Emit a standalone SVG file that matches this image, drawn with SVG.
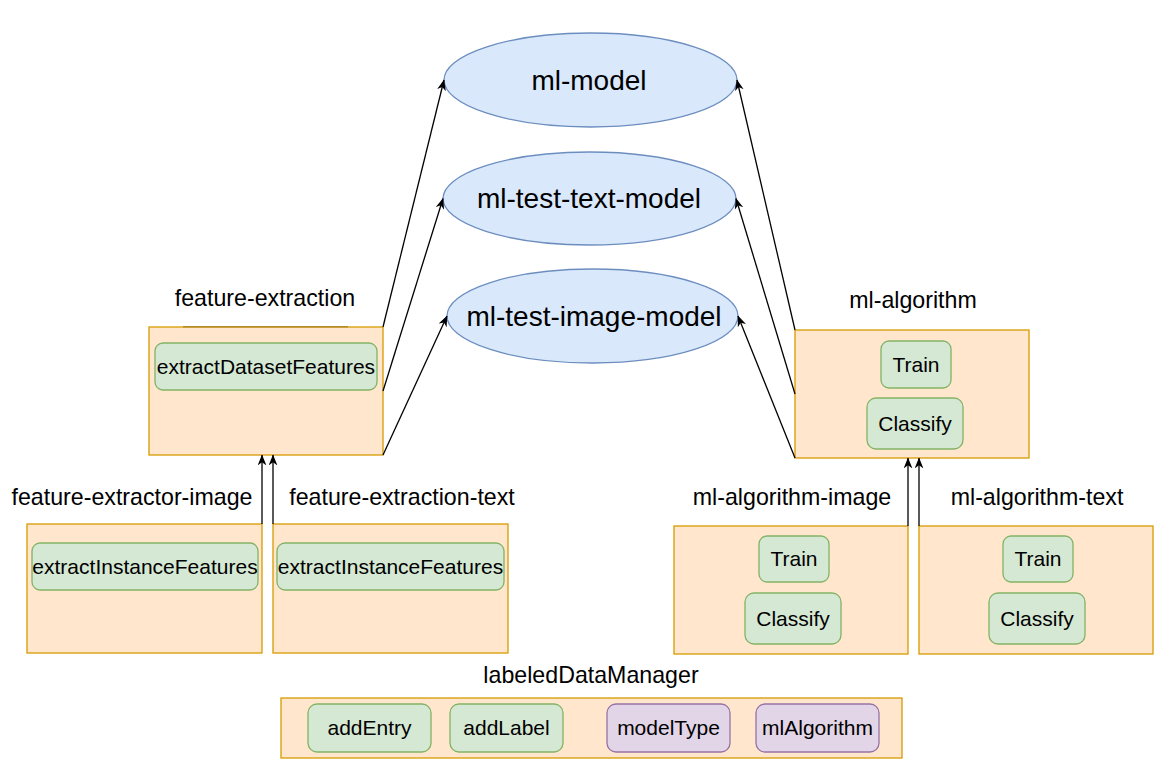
<svg xmlns="http://www.w3.org/2000/svg" width="1170" height="772" viewBox="0 0 1170 772">
<style>
  text { font-family: "Liberation Sans", Arial, sans-serif; fill: #000; text-anchor: middle; }
  .lbl { font-size: 23.2px; }
  .in { font-size: 21px; }
  .big { font-size: 28px; }
  .org { fill: #ffe6cc; stroke: #d79b00; stroke-width: 1.3; }
  .grn { fill: #d5e8d4; stroke: #82b366; stroke-width: 1.3; }
  .pur { fill: #e1d5e7; stroke: #9673a6; stroke-width: 1.3; }
  .blu { fill: #dae8fc; stroke: #6c8ebf; stroke-width: 1.3; }
  .edge { stroke: #000; stroke-width: 1.3; fill: none; marker-end: url(#arr); }
</style>
<defs>
  <marker id="arr" viewBox="0 0 10 8" refX="9.5" refY="4" markerWidth="11" markerHeight="9" markerUnits="userSpaceOnUse" orient="auto">
    <path d="M0,0 L10,4 L0,8 L3,4 z" fill="#000"/>
  </marker>
</defs>
<rect x="0" y="0" width="1170" height="772" fill="#ffffff"/>

<g id="ml-model">
  <ellipse class="blu" cx="590.5" cy="80" rx="146.5" ry="47"/>
  <text class="big" x="589" y="89.5">ml-model</text>
</g>
<g id="ml-test-text-model">
  <ellipse class="blu" cx="589.5" cy="198.5" rx="146.5" ry="46.5"/>
  <text class="big" x="589" y="208">ml-test-text-model</text>
</g>
<g id="ml-test-image-model">
  <ellipse class="blu" cx="592.5" cy="316" rx="145.5" ry="47"/>
  <text class="big" x="594" y="325.5">ml-test-image-model</text>
</g>

<g id="feature-extraction">
  <text class="lbl" x="265" y="306">feature-extraction</text>
  <rect class="org" x="149" y="327" width="234" height="128"/>
  <line x1="183" y1="326.8" x2="348" y2="326.8" stroke="#b08b2e" stroke-width="1.5"/>
  <rect class="grn" x="155" y="343" width="222" height="47" rx="8"/>
  <text class="in" x="266" y="373.5">extractDatasetFeatures</text>
</g>

<g id="feature-extractor-image">
  <text class="lbl" x="132" y="505">feature-extractor-image</text>
  <rect class="org" x="27" y="524" width="235" height="129"/>
  <rect class="grn" x="32" y="543" width="226" height="47" rx="8"/>
  <text class="in" x="145" y="573.5">extractInstanceFeatures</text>
</g>

<g id="feature-extraction-text">
  <text class="lbl" x="402" y="505">feature-extraction-text</text>
  <rect class="org" x="273" y="524" width="235" height="129"/>
  <rect class="grn" x="277" y="543" width="227" height="47" rx="8"/>
  <text class="in" x="390.5" y="573.5">extractInstanceFeatures</text>
</g>

<g id="ml-algorithm">
  <text class="lbl" x="913" y="308">ml-algorithm</text>
  <rect class="org" x="795" y="330" width="234" height="128"/>
  <rect class="grn" x="881" y="341" width="70" height="47" rx="8"/>
  <text class="in" x="916" y="371.5">Train</text>
  <rect class="grn" x="867" y="398" width="96" height="51" rx="9"/>
  <text class="in" x="915" y="431">Classify</text>
</g>

<g id="ml-algorithm-image">
  <text class="lbl" x="792" y="505">ml-algorithm-image</text>
  <rect class="org" x="674" y="526" width="234" height="128"/>
  <rect class="grn" x="759" y="536" width="70" height="46" rx="8"/>
  <text class="in" x="794" y="566">Train</text>
  <rect class="grn" x="745" y="593" width="96" height="51" rx="9"/>
  <text class="in" x="793" y="626">Classify</text>
</g>

<g id="ml-algorithm-text">
  <text class="lbl" x="1037" y="505">ml-algorithm-text</text>
  <rect class="org" x="919" y="526" width="234" height="128"/>
  <rect class="grn" x="1003" y="536" width="70" height="46" rx="8"/>
  <text class="in" x="1038" y="566">Train</text>
  <rect class="grn" x="989" y="593" width="96" height="51" rx="9"/>
  <text class="in" x="1037" y="626">Classify</text>
</g>

<g id="labeledDataManager">
  <text class="lbl" x="591" y="683">labeledDataManager</text>
  <rect class="org" x="281" y="698" width="621" height="60"/>
  <rect class="grn" x="308" y="704" width="123" height="48" rx="9"/>
  <text class="in" x="369.5" y="735">addEntry</text>
  <rect class="grn" x="450" y="704" width="113" height="48" rx="9"/>
  <text class="in" x="506.5" y="735">addLabel</text>
  <rect class="pur" x="607" y="704" width="123" height="48" rx="9"/>
  <text class="in" x="668.5" y="735">modelType</text>
  <rect class="pur" x="756" y="704" width="123" height="48" rx="9"/>
  <text class="in" x="817.5" y="735">mlAlgorithm</text>
</g>

<g id="connectors">
  <line class="edge" x1="383" y1="327" x2="444" y2="80"/>
  <line class="edge" x1="383" y1="391" x2="443" y2="198.5"/>
  <line class="edge" x1="383" y1="455" x2="447" y2="316"/>
  <line class="edge" x1="795" y1="330" x2="737" y2="80"/>
  <line class="edge" x1="795" y1="394" x2="736" y2="198.5"/>
  <line class="edge" x1="795" y1="458" x2="738" y2="316"/>
  <line class="edge" x1="262" y1="524" x2="262" y2="455"/>
  <line class="edge" x1="273" y1="524" x2="273" y2="455"/>
  <line class="edge" x1="908" y1="526" x2="908" y2="458"/>
  <line class="edge" x1="919" y1="526" x2="919" y2="458"/>
</g>
</svg>
